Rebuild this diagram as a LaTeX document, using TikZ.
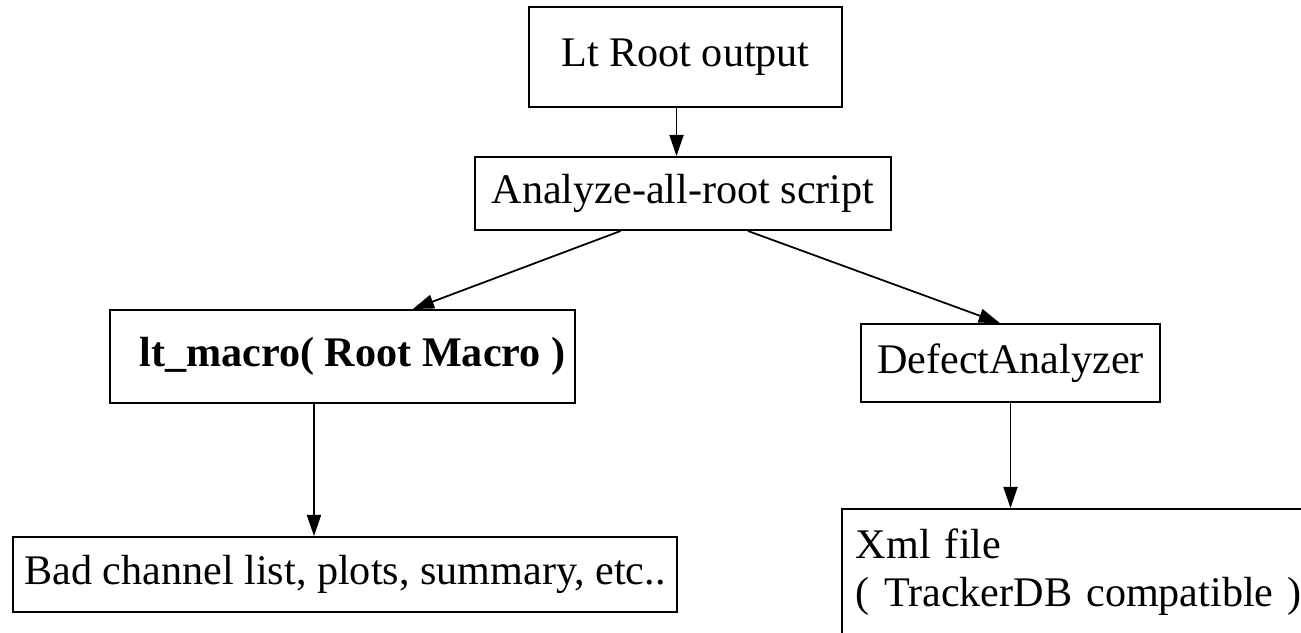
\documentclass[tikz,border=0pt]{standalone}
\usepackage{fontspec}
\setmainfont{Liberation Serif}
\usetikzlibrary{arrows.meta, positioning}
\tikzset{
  box/.style={rectangle, draw=black, line width=1.1pt, inner sep=0pt, font=\fontsize{24}{27.2}\selectfont},
  arrow/.style={-{Triangle[length=12pt, width=8pt]}, line width=1pt},
}

\begin{document}
\begin{tikzpicture}[x=0.02cm, y=-0.02cm]
\useasboundingbox (0,0) rectangle (1301,632);
\node (root)    [box, minimum width=6.26cm, minimum height=2cm]    at (685.5,57)    {Lt Root output};
\node (analyze) [box, minimum width=8.32cm, minimum height=1.46cm] at (683,193.5)   {Analyze-all-root script};
\node (macro)   [box, minimum width=9.3cm,  minimum height=1.86cm] at (342.5,356.5) {\hspace{0.4cm}\textbf{lt\_macro( Root Macro )}};
\node (defect)  [box, minimum width=5.98cm, minimum height=1.56cm] at (1010.5,363)  {DefectAnalyzer};
\node (badlist) [box, minimum width=13.28cm, minimum height=1.5cm] at (345,574.5)   {Bad channel list, plots, summary, etc..};
\node (xml)     [box, anchor=north west, text width=9.04cm, inner xsep=0.28cm, align=left, minimum height=2.52cm] at (841,508)
  {Xml file\\( TrackerDB compatible )};
\draw[arrow] (root.260) -- (root.260 |- analyze.north);
\draw[arrow] (analyze.211) -- (macro.34);
\draw[arrow] (analyze.330) -- (defect.105);
\draw[arrow] (macro.239) -- (macro.239 |- badlist.north);
\draw[arrow] (defect.south) -- (defect.south |- xml.north);
\end{tikzpicture}
\end{document}
